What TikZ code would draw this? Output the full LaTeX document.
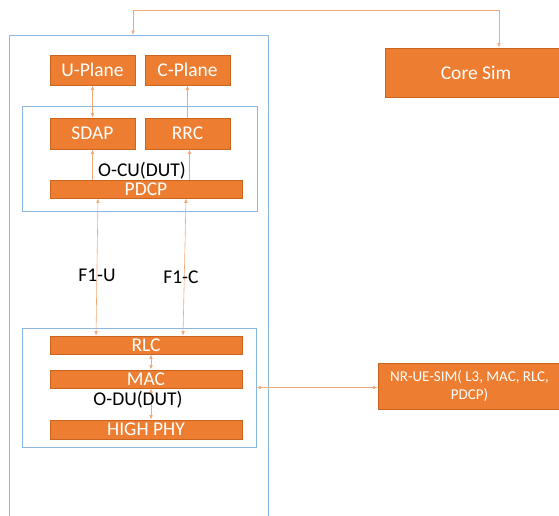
\documentclass[tikz,border=0pt]{standalone}
\usepackage{fontspec}
\setmainfont{Carlito}
\usetikzlibrary{arrows.meta}
\definecolor{org}{HTML}{ED7D31}
\definecolor{orgdark}{HTML}{C9651F}
\definecolor{bluebox}{HTML}{8DB8E2}
\definecolor{arr}{HTML}{F3A877}
\tikzset{
  obox/.style={fill=org, draw=orgdark, line width=0.6pt, text=white, inner sep=0pt,
    font=\fontsize{19.5}{21}\selectfont},
  bbox/.style={draw=bluebox, line width=1pt, inner sep=0pt},
  lbl/.style={text=black, inner sep=0pt, font=\fontsize{19.5}{21}\selectfont},
  link/.style={draw=arr, line width=0.6pt},
  tip/.tip={Latex[length=4.5pt,width=3.5pt]},
}
\begin{document}
\begin{tikzpicture}[x=1pt,y=-1pt]
\useasboundingbox (0,0) rectangle (559,515);
% outer box (open at bottom)
\coordinate (obl) at (9,520);
\coordinate (obtl) at (9,35);
\coordinate (obtr) at (268,35);
\coordinate (obr) at (268,520);
\coordinate (ctop) at (133,35);
\draw[bbox] (obl) -- (obtl) -- (obtr) -- (obr);
% O-CU container
\node[bbox, minimum width=235pt, minimum height=105pt] (ocu) at (139.5,158.5) {};
\node[obox, minimum width=85pt, minimum height=30pt] (up) at (92.5,70) {U-Plane};
\node[obox, minimum width=85pt, minimum height=30pt] (cp) at (187.5,70) {C-Plane};
\node[obox, minimum width=85pt, minimum height=31pt] (sdap) at (92.5,133.5) {SDAP};
\node[obox, minimum width=85pt, minimum height=31pt] (rrc) at (187.5,133.5) {RRC};
\node[obox, minimum width=192pt, minimum height=18pt] (pdcp) at (146,189) {PDCP};
% O-DU container
\node[bbox, minimum width=234pt, minimum height=119pt] (odu) at (139,387.5) {};
\node[obox, minimum width=192pt, minimum height=18pt] (rlc) at (146,345) {RLC};
\node[obox, minimum width=192pt, minimum height=18pt] (mac) at (146,379) {MAC};
\node[obox, minimum width=192pt, minimum height=19pt] (phy) at (146,429.5) {HIGH PHY};
% right side boxes
\node[obox, minimum width=177pt, minimum height=49pt] (core) at (473.5,72.5) {\hspace*{5pt}Core Sim};
\node[obox, minimum width=183pt, minimum height=46pt, align=center,
  font=\fontsize{15}{18}\selectfont] (nr) at (469.5,386) {NR-UE-SIM( L3, MAC, RLC,\\PDCP)};
% links
\draw[link, tip-tip] (sdap.north) -- (up.south);
\draw[link, -tip] (rrc.north) -- (cp.south);
\draw[link, -tip] (sdap.south |- pdcp.north) -- (sdap.south);
\draw[link, -tip] ([xshift=2pt]rrc.south |- pdcp.north) -- ([xshift=2pt]rrc.south);
\draw[link, tip-tip] ([xshift=-48pt]pdcp.south) -- ([xshift=-50pt]rlc.north);
\draw[link, tip-tip] ([xshift=40pt]pdcp.south) -- ([xshift=37pt]rlc.north);
\draw[link, tip-tip] ([xshift=5pt]rlc.south) -- ([xshift=5pt]mac.north);
\draw[link, tip-tip] ([xshift=5pt]mac.south) -- ([xshift=5pt]phy.north);
\draw[link, tip-tip] (ctop) -- ++(0,-25) -| ([xshift=25.5pt]core.north);
\draw[link, tip-tip] (odu.east) -- (nr.west |- odu.east);
% labels
\node[lbl] (ocut) at (142,171) {O-CU(DUT)};
\node[lbl] (odut) at (138,400) {O-DU(DUT)};
\node[lbl] (f1u) at (97,275) {F1-U};
\node[lbl] (f1c) at (181,277) {F1-C};
\end{tikzpicture}
\end{document}
